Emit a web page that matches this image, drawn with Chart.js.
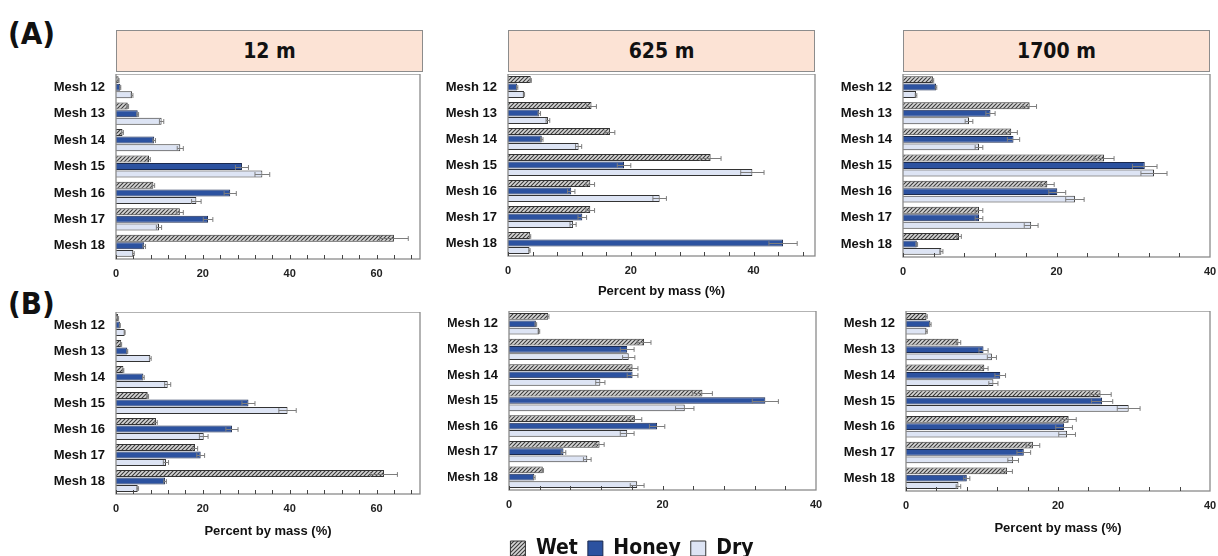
<!DOCTYPE html>
<html>
<head>
<meta charset="utf-8">
<script src="https://cdn.jsdelivr.net/npm/chart.js@4.4.1/dist/chart.umd.min.js"></script>
<style>
  body { margin: 0; width: 1218px; height: 556px; overflow: hidden; background: #fff; position: relative; }
  canvas { position: absolute; }
  .head { position: absolute; top: 30px; height: 42px; box-sizing: border-box; background: #fce3d5; border: 1.5px solid #8c8c8c;
          font: bold 21px "Liberation Sans Narrow", "DejaVu Sans Condensed", sans-serif; color: #111;
          display: flex; align-items: center; justify-content: center; }
  .tag { position: absolute; left: 8px; font: bold 31px/34px "Liberation Sans Narrow", "DejaVu Sans Condensed", sans-serif; color: #111; }
</style>
</head>
<body>
<div class="tag" style="top:16px">(A)</div>
<div class="tag" style="top:286px">(B)</div>
<div class="head" style="left:116px;width:307px">12 m</div>
<div class="head" style="left:508px;width:307px">625 m</div>
<div class="head" style="left:903px;width:307px">1700 m</div>

<script>
// categories
const meshLabels = ['Mesh 12', 'Mesh 13', 'Mesh 14', 'Mesh 15', 'Mesh 16', 'Mesh 17', 'Mesh 18'];
const seriesNames = ['Wet', 'Honey', 'Dry'];
const axisTitle = 'Percent by mass (%)';

// (A) 12 m
const a12Wet = [0.6, 2.7, 1.5, 7.6, 8.6, 14.7, 64.0];
const a12WetErr = [0.1, 0.2, 0.2, 0.3, 0.3, 0.8, 3.3];
const a12Honey = [1.0, 5.0, 8.8, 29.0, 26.3, 21.2, 6.5];
const a12HoneyErr = [0.1, 0.2, 0.3, 1.5, 1.4, 1.1, 0.3];
const a12Dry = [3.7, 10.5, 14.8, 33.7, 18.5, 9.9, 4.0];
const a12DryErr = [0.2, 0.5, 0.7, 1.7, 1.1, 0.6, 0.2];

// (A) 625 m
const a625Wet = [3.7, 13.6, 16.6, 33.0, 13.4, 13.4, 3.6];
const a625WetErr = [0.1, 0.8, 0.8, 1.7, 0.7, 0.7, 0.1];
const a625Honey = [1.5, 5.1, 5.5, 18.9, 10.3, 12.1, 44.8];
const a625HoneyErr = [0.1, 0.2, 0.2, 1.1, 0.6, 0.7, 2.3];
const a625Dry = [2.6, 6.5, 11.5, 39.8, 24.7, 10.6, 3.5];
const a625DryErr = [0.1, 0.3, 0.5, 1.9, 1.1, 0.5, 0.1];

// (A) 1700 m
const a1700Wet = [3.9, 16.5, 14.1, 26.2, 18.8, 9.9, 7.3];
const a1700WetErr = [0.1, 0.9, 0.8, 1.3, 0.9, 0.5, 0.3];
const a1700Honey = [4.3, 11.4, 14.4, 31.5, 20.1, 9.9, 1.8];
const a1700HoneyErr = [0.1, 0.6, 0.8, 1.6, 1.1, 0.5, 0.1];
const a1700Dry = [1.7, 8.6, 9.9, 32.7, 22.4, 16.7, 5.0];
const a1700DryErr = [0.1, 0.5, 0.5, 1.7, 1.2, 0.9, 0.2];

// (B) 12 m
const b12Wet = [0.5, 1.2, 1.7, 7.3, 9.2, 18.2, 61.7];
const b12WetErr = [0.1, 0.1, 0.1, 0.2, 0.3, 0.6, 3.1];
const b12Honey = [0.9, 2.6, 6.3, 30.5, 26.7, 19.5, 11.3];
const b12HoneyErr = [0.1, 0.1, 0.2, 1.5, 1.4, 0.9, 0.3];
const b12Dry = [2.0, 7.9, 11.9, 39.5, 20.2, 11.5, 5.0];
const b12DryErr = [0.1, 0.2, 0.7, 2.0, 1.0, 0.6, 0.2];

// (B) 625 m
const b625Wet = [5.1, 17.6, 16.1, 25.2, 16.4, 11.8, 4.4];
const b625WetErr = [0.1, 0.9, 0.7, 1.3, 0.9, 0.6, 0.1];
const b625Honey = [3.5, 15.4, 16.1, 33.4, 19.3, 7.1, 3.3];
const b625HoneyErr = [0.1, 0.9, 0.7, 1.7, 1.0, 0.3, 0.1];
const b625Dry = [3.9, 15.6, 11.9, 22.9, 15.4, 10.2, 16.7];
const b625DryErr = [0.1, 0.8, 0.6, 1.2, 0.9, 0.5, 0.9];

// (B) 1700 m
const b1700Wet = [2.7, 6.9, 10.3, 25.6, 21.4, 16.7, 13.3];
const b1700WetErr = [0.1, 0.3, 0.5, 1.4, 1.0, 0.9, 0.7];
const b1700Honey = [3.2, 10.2, 12.4, 25.8, 20.8, 15.5, 8.0];
const b1700HoneyErr = [0.1, 0.6, 0.7, 1.4, 1.1, 0.9, 0.4];
const b1700Dry = [2.7, 11.3, 11.5, 29.3, 21.2, 14.1, 6.9];
const b1700DryErr = [0.1, 0.6, 0.6, 1.5, 1.1, 0.7, 0.3];

// x ticks: marks every 4, labels every 20
const minorStep = 4;
const labelStep = 20;

const condensed = '"Liberation Sans Narrow", "DejaVu Sans Condensed", sans-serif';
const plain = '"Liberation Sans", Arial, sans-serif';

function makeHatch() {
  const c = document.createElement('canvas');
  c.width = 4; c.height = 4;
  const g = c.getContext('2d');
  g.fillStyle = '#d6d6d6';
  g.fillRect(0, 0, 4, 4);
  g.strokeStyle = '#3a3a3a';
  g.lineWidth = 1.1;
  g.beginPath();
  g.moveTo(0, 4); g.lineTo(4, 0);
  g.moveTo(-1, 1); g.lineTo(1, -1);
  g.moveTo(3, 5); g.lineTo(5, 3);
  g.stroke();
  return g.createPattern(c, 'repeat');
}
const hatch = makeHatch();

// whiskers, drawn both ways from the bar end
const errorBars = {
  id: 'errorBars',
  afterDatasetsDraw(chart) {
    const ctx = chart.ctx, xs = chart.scales.x;
    chart.data.datasets.forEach((ds, i) => {
      chart.getDatasetMeta(i).data.forEach((bar, j) => {
        const e = ds.errors[j];
        if (!e) return;
        const v = ds.data[j];
        const x1 = xs.getPixelForValue(Math.max(0, v - e));
        const x2 = xs.getPixelForValue(v + e);
        const y = Math.round(bar.y) + 0.5, h = bar.height * 0.35;
        ctx.save();
        ctx.strokeStyle = '#7d7d7d';
        ctx.lineWidth = 1;
        ctx.beginPath();
        ctx.moveTo(x1, y); ctx.lineTo(x2, y);
        ctx.moveTo(x2, y - h); ctx.lineTo(x2, y + h);
        if (v - e > 0) { ctx.moveTo(x1, y - h); ctx.lineTo(x1, y + h); }
        ctx.stroke();
        ctx.restore();
      });
    });
  }
};

// box round the plot + small tick marks pointing in
const frame = {
  id: 'frame',
  afterDraw(chart) {
    const { ctx, chartArea: a } = chart, xs = chart.scales.x;
    ctx.save();
    ctx.strokeStyle = '#8a8a8a';
    ctx.lineWidth = 1.3;
    ctx.strokeRect(a.left, a.top, a.right - a.left, a.bottom - a.top);
    ctx.strokeStyle = '#444';
    ctx.lineWidth = 1;
    ctx.beginPath();
    for (let v = 0; v < xs.max; v += minorStep) {
      const px = Math.round(xs.getPixelForValue(v)) + 0.5;
      ctx.moveTo(px, a.bottom);
      ctx.lineTo(px, a.bottom - 4);
    }
    ctx.stroke();
    ctx.restore();
  }
};

function panel(p) {
  const cv = document.createElement('canvas');
  cv.width = p.w; cv.height = p.h;
  cv.style.left = p.left + 'px';
  cv.style.top = p.top + 'px';
  document.body.appendChild(cv);

  new Chart(cv, {
    type: 'bar',
    data: {
      labels: meshLabels,
      datasets: [
        { label: seriesNames[0], data: p.wet, errors: p.wetErr, backgroundColor: hatch, borderColor: '#333', borderWidth: 1 },
        { label: seriesNames[1], data: p.honey, errors: p.honeyErr, backgroundColor: '#2c52a0', borderColor: '#1b2a4f', borderWidth: 1 },
        { label: seriesNames[2], data: p.dry, errors: p.dryErr, backgroundColor: '#dde4f4', borderColor: '#333', borderWidth: 1 }
      ]
    },
    options: {
      indexAxis: 'y',
      responsive: false,
      animation: false,
      layout: { padding: { top: 0, left: 0, bottom: 0, right: p.padRight } },
      datasets: { bar: { categoryPercentage: 0.86, barPercentage: 0.92 } },
      plugins: {
        tooltip: { enabled: false },
        legend: {
          display: !!p.legend,
          position: 'bottom',
          labels: {
            boxWidth: 15, boxHeight: 15, padding: 10, color: '#111',
            font: { family: condensed, size: 21, weight: 'bold' }
          }
        }
      },
      scales: {
        x: {
          min: 0, max: p.max,
          grid: { display: false, drawTicks: false },
          border: { display: false },
          ticks: {
            stepSize: minorStep, autoSkip: false, maxRotation: 0, padding: 8, color: '#222',
            font: { family: plain, size: 11, weight: 'bold' },
            callback: v => (v % labelStep === 0 ? v : '')
          },
          title: {
            display: !!p.title, text: axisTitle, color: '#111',
            font: { family: plain, size: 13, weight: 'bold' }, padding: { top: 4, bottom: 4 }
          },
          afterFit: s => { s.height = p.xh; s.paddingLeft = 0; s.paddingRight = 0; }
        },
        y: {
          grid: { display: false, drawTicks: false },
          border: { display: false },
          ticks: { padding: 11, color: '#111', font: { family: plain, size: 13, weight: 'bold' } },
          afterFit: s => { s.width = p.yw; s.paddingTop = 0; s.paddingBottom = 0; }
        }
      }
    },
    plugins: [errorBars, frame]
  });
}

panel({ left: 20, top: 74, w: 412, h: 225, yw: 96, xh: 40, padRight: 12, max: 70,
        wet: a12Wet, wetErr: a12WetErr, honey: a12Honey, honeyErr: a12HoneyErr, dry: a12Dry, dryErr: a12DryErr });
panel({ left: 435, top: 74, w: 392, h: 229, yw: 73, xh: 47, padRight: 12, max: 50, title: true,
        wet: a625Wet, wetErr: a625WetErr, honey: a625Honey, honeyErr: a625HoneyErr, dry: a625Dry, dryErr: a625DryErr });
panel({ left: 830, top: 74, w: 388, h: 223, yw: 73, xh: 40, padRight: 8, max: 40,
        wet: a1700Wet, wetErr: a1700WetErr, honey: a1700Honey, honeyErr: a1700HoneyErr, dry: a1700Dry, dryErr: a1700DryErr });

panel({ left: 20, top: 312, w: 412, h: 231, yw: 96, xh: 49, padRight: 12, max: 70, title: true,
        wet: b12Wet, wetErr: b12WetErr, honey: b12Honey, honeyErr: b12HoneyErr, dry: b12Dry, dryErr: b12DryErr });
panel({ left: 448, top: 311, w: 382, h: 258, yw: 61, xh: 38, padRight: 14, max: 40, legend: true,
        wet: b625Wet, wetErr: b625WetErr, honey: b625Honey, honeyErr: b625HoneyErr, dry: b625Dry, dryErr: b625DryErr });
panel({ left: 830, top: 311, w: 388, h: 229, yw: 76, xh: 49, padRight: 8, max: 40, title: true,
        wet: b1700Wet, wetErr: b1700WetErr, honey: b1700Honey, honeyErr: b1700HoneyErr, dry: b1700Dry, dryErr: b1700DryErr });
</script>
</body>
</html>
